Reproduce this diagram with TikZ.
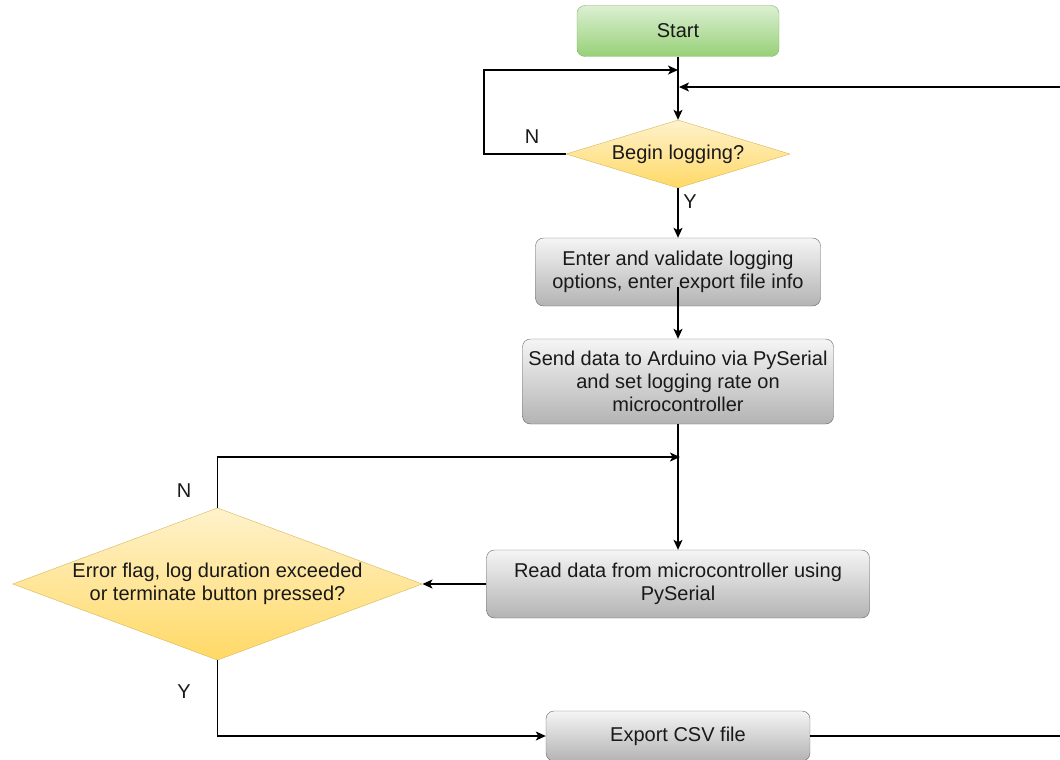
\documentclass[tikz,border=0pt]{standalone}
\usepackage{fontspec}
\setmainfont{Liberation Sans}
\usetikzlibrary{arrows.meta}
\usetikzlibrary{shapes.geometric}
\definecolor{starttop}{HTML}{DCF0D3}
\definecolor{startbot}{HTML}{97D077}
\definecolor{startline}{HTML}{82B366}
\definecolor{decitop}{HTML}{FFF2CC}
\definecolor{decibot}{HTML}{FFD966}
\definecolor{deciline}{HTML}{D6B656}
\definecolor{proctop}{HTML}{F5F5F5}
\definecolor{procbot}{HTML}{B3B3B3}
\definecolor{procline}{HTML}{666666}
\tikzset{>={Stealth[length=10pt,width=9pt,inset=2.5pt]}}
\tikzset{
	every node/.style={font=\fontsize{20}{23}\selectfont, text=black!90},
	startbox/.style={rectangle, rounded corners=8pt, draw=startline, top color=starttop, bottom color=startbot, minimum width=202pt, minimum height=51pt},
	procbox/.style={rectangle, rounded corners=8pt, draw=procline, top color=proctop, bottom color=procbot, align=center, minimum height=68pt},
	decision/.style={diamond, draw=deciline, top color=decitop, bottom color=decibot, align=center, inner sep=1pt},
	flow/.style={->, line width=1.2pt},
}

\begin{document}
\begin{tikzpicture}[x=1pt, y=-1pt]
			\useasboundingbox (0,0) rectangle (1060,760);

			\node[startbox] (start) at (678,31) {Start};
			\node[decision, minimum width=224pt, minimum height=68pt, aspect=3.29] (begin) at (678,154) {Begin logging?};
			\node[procbox, minimum width=285pt] (enter) at (678,272) {Enter and validate logging\\options, enter export file info};
			\node[procbox, minimum width=311pt, minimum height=85pt] (send) at (678,381.5) {Send data to Arduino via PySerial\\and set logging rate on\\microcontroller};
			\node[procbox, minimum width=383pt] (readd) at (678,584) {Read data from microcontroller using\\PySerial};
			\node[decision, minimum width=409pt, minimum height=152pt, aspect=2.69] (err) at (217.5,584) {Error flag, log duration exceeded\\or terminate button pressed?};
			\node[procbox, minimum width=264pt, minimum height=50pt] (export) at (678,736) {Export CSV file};

			\coordinate (n1) at (484,70);
			\coordinate (j1) at (678,70);
			\coordinate (r1) at (1090,87);
			\coordinate (j2) at (679,87);
			\coordinate (j3) at (680,457);

			\draw[flow] (start) -- (begin);
			\draw[flow] (begin.west) -| (n1) -- (j1);
			\draw[flow] (export.east) -| (r1) -- (j2);
			\draw[flow] (begin) -- (enter);
			\draw[flow] ([yshift=19pt]enter.south) -- (send);
			\draw[flow] (send) -- (readd);
			\draw[flow] (err.north) |- (j3);
			\draw[flow] (readd) -- (err);
			\draw[flow] (err.south) |- (export.west);

			\node (lbn1) at (532,137) {N};
			\node (lby1) at (690,202) {Y};
			\node (lbn2) at (184,491) {N};
			\node (lby2) at (184,692) {Y};
		\end{tikzpicture}
\end{document}
